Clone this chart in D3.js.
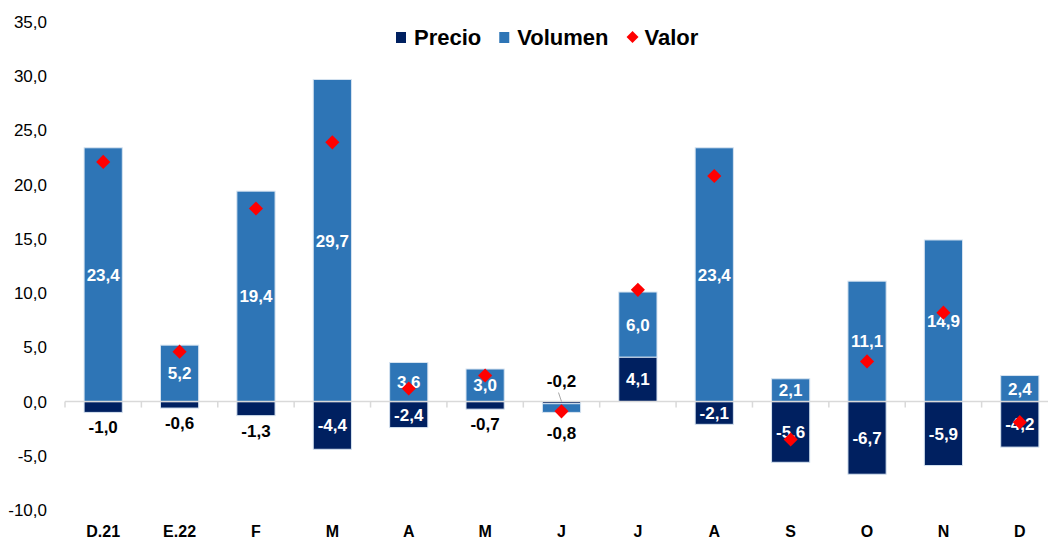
<!DOCTYPE html>
<html>
<head>
<meta charset="utf-8">
<script src="https://cdn.jsdelivr.net/npm/d3@7"></script>
<style>
  html, body { margin: 0; padding: 0; background: #fff; }
  svg { display: block; }
</style>
</head>
<body>
<div id="chart"></div>
<script>
(function () {
  'use strict';

  var categories = ['D.21', 'E.22', 'F', 'M', 'A', 'M', 'J', 'J', 'A', 'S', 'O', 'N', 'D'];
  var precio     = [-1.0, -0.6, -1.3, -4.4, -2.4, -0.7, -0.2, 4.1, -2.1, -5.6, -6.7, -5.9, -4.2];
  var volumen    = [23.4, 5.2, 19.4, 29.7, 3.6, 3.0, -0.8, 6.0, 23.4, 2.1, 11.1, 14.9, 2.4];
  var valor      = [22.1, 4.6, 17.8, 23.9, 1.2, 2.4, -0.9, 10.3, 20.8, -3.5, 3.7, 8.2, -1.9];
  var yTicks     = [-10, -5, 0, 5, 10, 15, 20, 25, 30, 35];

  var COL = {
    precio:  '#002060',
    volumen: '#2e75b6',
    valor:   '#ff0000',
    edge:    '#d6e3f0',
    axis:    '#d9d9d9',
    text:    '#000000',
  };
  var FONT = '"Liberation Sans", Arial, sans-serif';

  var W = 1048, H = 542;
  var svg = d3.select('#chart').append('svg')
    .attr('width', W).attr('height', H)
    .attr('font-family', FONT);

  var x = d3.scaleBand()
    .domain(d3.range(categories.length))
    .range([65, 1058])
    .paddingInner(0.5)
    .paddingOuter(0.25);
  var y = d3.scaleLinear().domain([-10, 35]).range([510, 22]);

  var fmt = function (v) { return v.toFixed(1).replace('.', ','); };

  // Excel-style stacking: positives up from 0, negatives down from 0
  var series = [
    { key: 'precio',  vals: precio,  color: COL.precio },
    { key: 'volumen', vals: volumen, color: COL.volumen }
  ];
  var pos = categories.map(function () { return 0; });
  var neg = categories.map(function () { return 0; });
  var segs = [];
  series.forEach(function (s, si) {
    s.vals.forEach(function (v, i) {
      var y0, y1;
      if (v >= 0) { y0 = pos[i]; y1 = pos[i] + v; pos[i] = y1; }
      else        { y0 = neg[i]; y1 = neg[i] + v; neg[i] = y1; }
      segs.push({ i: i, s: si, v: v, y0: y0, y1: y1, color: s.color });
    });
  });

  // Y axis labels (no line)
  svg.append('g').selectAll('text').data(yTicks).join('text')
    .attr('x', 47).attr('y', function (d) { return y(d) + 6; })
    .attr('text-anchor', 'end')
    .attr('font-size', 17)
    .attr('fill', COL.text)
    .text(fmt);

  // Bars
  svg.append('g').selectAll('rect').data(segs).join('rect')
    .attr('x', function (d) { return x(d.i); })
    .attr('width', x.bandwidth())
    .attr('y', function (d) { return y(Math.max(d.y0, d.y1)); })
    .attr('height', function (d) { return Math.abs(y(d.y0) - y(d.y1)); })
    .attr('fill', function (d) { return d.color; })
    .attr('stroke', COL.edge)
    .attr('stroke-width', 1);

  // Zero axis line + category boundary ticks
  var ax = svg.append('g');
  ax.append('line')
    .attr('x1', 65).attr('x2', W)
    .attr('y1', y(0)).attr('y2', y(0))
    .attr('stroke', COL.axis).attr('stroke-width', 1.5);
  ax.selectAll('line.tk').data(d3.range(categories.length + 1)).join('line')
    .attr('class', 'tk')
    .attr('x1', function (k) { return 65 + k * x.step(); })
    .attr('x2', function (k) { return 65 + k * x.step(); })
    .attr('y1', y(0)).attr('y2', y(0) + 6)
    .attr('stroke', COL.axis).attr('stroke-width', 1.5);

  // Data labels
  var lab = svg.append('g')
    .attr('font-size', 17).attr('font-weight', 'bold')
    .attr('text-anchor', 'middle');
  segs.forEach(function (d) {
    var cx = x(d.i) + x.bandwidth() / 2;
    var inside = Math.abs(d.v) >= 2;
    var cy, fill = '#fff';
    if (inside) {
      cy = y((d.y0 + d.y1) / 2);
    } else {
      fill = COL.text;
      var smallNegs = segs.filter(function (e) {
        return e.i === d.i && e.v < 0 && Math.abs(e.v) < 2;
      });
      if (smallNegs.length > 1 && d.y0 === 0) {
        // first of two tiny negatives: above the zero line with a leader
        cy = y(0) - 21;
        lab.append('line')
          .attr('x1', cx - 3).attr('x2', cx)
          .attr('y1', cy + 12).attr('y2', y(0))
          .attr('stroke', '#a6a6a6').attr('stroke-width', 1);
      } else {
        cy = y(neg[d.i]) + (smallNegs.length > 1 ? 21 : 15);
      }
    }
    lab.append('text')
      .attr('x', cx).attr('y', cy + 6)
      .attr('fill', fill)
      .text(fmt(d.v));
  });

  // Valor diamonds
  var diamond = d3.symbol().type(d3.symbolSquare).size(100);
  svg.append('g').selectAll('path').data(valor).join('path')
    .attr('d', diamond)
    .attr('transform', function (v, i) {
      return 'translate(' + (x(i) + x.bandwidth() / 2) + ',' + y(v) + ') rotate(45)';
    })
    .attr('fill', COL.valor);

  // Category labels along the bottom edge
  svg.append('g').selectAll('text').data(categories).join('text')
    .attr('x', function (c, i) { return x(i) + x.bandwidth() / 2; })
    .attr('y', 537)
    .attr('text-anchor', 'middle')
    .attr('font-size', 16).attr('font-weight', 'bold')
    .attr('fill', COL.text)
    .text(function (c) { return c; });

  // Legend
  var leg = svg.append('g').attr('font-size', 22).attr('font-weight', 'bold');
  var items = [
    { label: 'Precio',  color: COL.precio,  shape: 'sq' },
    { label: 'Volumen', color: COL.volumen, shape: 'sq' },
    { label: 'Valor',   color: COL.valor,   shape: 'dm' }
  ];
  var lx = 396, ly = 37;
  items.forEach(function (it) {
    if (it.shape === 'sq') {
      leg.append('rect')
        .attr('x', lx).attr('y', ly - 5).attr('width', 10).attr('height', 11)
        .attr('fill', it.color);
    } else {
      leg.append('path')
        .attr('d', d3.symbol().type(d3.symbolSquare).size(72))
        .attr('transform', 'translate(' + (lx + 6) + ',' + ly + ') rotate(45)')
        .attr('fill', it.color);
    }
    var t = leg.append('text')
      .attr('x', lx + 18).attr('y', ly + 8)
      .attr('fill', COL.text)
      .text(it.label);
    lx += 18 + t.node().getComputedTextLength() + 18;
  });
}());
</script>
</body>
</html>
